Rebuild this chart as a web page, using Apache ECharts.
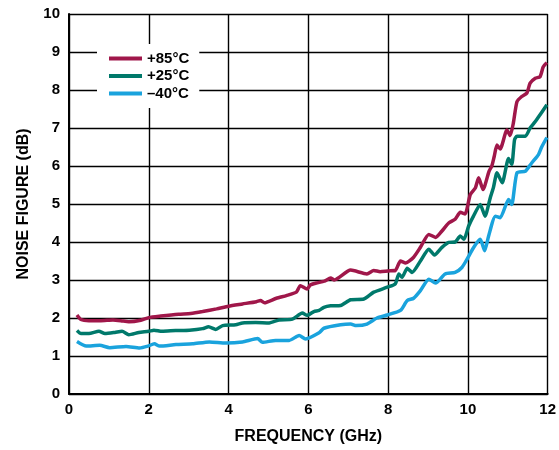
<!DOCTYPE html>
<html>
<head>
<meta charset="utf-8">
<script src="https://cdn.jsdelivr.net/npm/echarts@6/dist/echarts.min.js"></script>
<style>html,body{margin:0;padding:0;background:#fff;}#c{width:559px;height:450px;}</style>
</head>
<body>
<div id="c"></div>
<script>
const seriesNames = ['+85°C', '+25°C', '\u201340°C'];
const seriesColors = ['#A0174A', '#00796B', '#1AA3DD'];

const hotX = [0.2,0.3,0.5,0.8,1.1,1.3,1.5,1.8,2.0,2.3,2.75,3.05,3.35,3.7,4.0,4.35,4.7,4.8,4.9,5.2,5.45,5.7,5.8,5.97,6.05,6.2,6.4,6.56,6.65,7.06,7.47,7.64,7.8,8.0,8.18,8.31,8.44,8.64,8.81,9.02,9.19,9.35,9.52,9.68,9.81,9.93,10.06,10.19,10.27,10.38,10.53,10.6,10.66,10.73,10.81,10.98,11.06,11.14,11.23,11.35,11.48,11.56,11.69,11.81,11.89,11.98];
const hotY = [2.08,1.96,1.93,1.93,1.95,1.93,1.9,1.94,2.01,2.05,2.1,2.12,2.17,2.24,2.31,2.37,2.43,2.46,2.4,2.52,2.59,2.68,2.85,2.76,2.87,2.92,2.97,3.05,3.0,3.26,3.16,3.25,3.22,3.24,3.25,3.5,3.45,3.6,3.86,4.2,4.12,4.29,4.5,4.6,4.78,4.74,5.25,5.43,5.69,5.38,5.86,6.0,6.25,6.55,6.45,6.95,6.8,7.13,7.69,7.83,7.92,8.18,8.31,8.35,8.61,8.72];

const roomX = [0.2,0.3,0.5,0.75,0.9,1.15,1.33,1.5,1.75,2.0,2.13,2.33,2.67,3.02,3.35,3.5,3.68,3.85,4.18,4.35,4.68,5.02,5.27,5.6,5.85,5.97,6.14,6.27,6.39,6.56,6.81,7.06,7.39,7.64,7.98,8.18,8.27,8.35,8.48,8.6,8.81,9.02,9.16,9.35,9.52,9.68,9.81,9.9,10.02,10.14,10.31,10.43,10.56,10.64,10.73,10.86,11.02,11.1,11.17,11.23,11.44,11.56,11.69,11.81,11.98];
const roomY = [1.67,1.59,1.59,1.65,1.59,1.62,1.65,1.56,1.62,1.65,1.68,1.65,1.67,1.68,1.72,1.77,1.7,1.8,1.82,1.87,1.88,1.87,1.95,1.97,2.13,2.07,2.17,2.2,2.28,2.32,2.33,2.48,2.5,2.68,2.81,2.9,3.16,3.07,3.31,3.2,3.5,3.81,3.66,3.86,3.99,4.0,4.16,4.07,4.42,4.68,4.99,4.68,5.16,5.43,5.82,5.56,6.2,6.04,6.69,6.78,6.78,7.0,7.17,7.35,7.61];

const coldX = [0.2,0.43,0.77,1.02,1.43,1.77,1.98,2.14,2.27,2.68,3.1,3.52,3.93,4.35,4.73,4.85,5.18,5.52,5.77,5.93,6.27,6.39,6.81,7.06,7.2,7.47,7.72,7.98,8.31,8.48,8.64,8.81,9.02,9.19,9.43,9.68,9.85,9.98,10.14,10.31,10.42,10.52,10.69,10.81,11.02,11.1,11.23,11.44,11.6,11.77,11.85,11.98];
const coldY = [1.38,1.26,1.28,1.22,1.25,1.21,1.26,1.32,1.26,1.3,1.32,1.37,1.34,1.37,1.46,1.36,1.41,1.41,1.54,1.45,1.61,1.73,1.82,1.84,1.8,1.84,2.0,2.08,2.2,2.46,2.52,2.72,3.02,2.92,3.16,3.2,3.33,3.55,3.85,4.07,3.77,4.16,4.68,4.64,5.12,4.99,5.82,5.86,6.08,6.3,6.5,6.75];

const xTicks = [0, 2, 4, 6, 8, 10, 12];
const yTicks = [0, 1, 2, 3, 4, 5, 6, 7, 8, 9, 10];
const xTitle = 'FREQUENCY (GHz)';
const yTitle = 'NOISE FIGURE (dB)';

const pairs = (xs, ys) => xs.map((x, i) => [x, ys[i]]);
const seriesData = [pairs(hotX, hotY), pairs(roomX, roomY), pairs(coldX, coldY)];

const font = 'Liberation Sans, Arial, sans-serif';
const chart = echarts.init(document.getElementById('c'), null, {renderer: 'canvas'});
chart.setOption({
  animation: false,
  backgroundColor: '#fff',
  grid: {left: 69, right: 10, top: 14, bottom: 54, containLabel: false},
  xAxis: {
    type: 'value', min: xTicks[0], max: xTicks[xTicks.length - 1], interval: 2,
    name: xTitle, nameLocation: 'middle', nameGap: 35,
    nameTextStyle: {fontFamily: font, fontWeight: 'bold', fontSize: 16, color: '#000'},
    axisLine: {show: true, lineStyle: {color: '#000', width: 2}},
    axisTick: {show: false},
    axisLabel: {fontFamily: font, fontWeight: 'bold', fontSize: 15, color: '#000', margin: 8},
    splitLine: {show: true, lineStyle: {color: '#000', width: 1.4}}
  },
  yAxis: {
    type: 'value', min: yTicks[0], max: yTicks[yTicks.length - 1], interval: 1,
    name: yTitle, nameLocation: 'middle', nameGap: 37, nameRotate: 90,
    nameTextStyle: {fontFamily: font, fontWeight: 'bold', fontSize: 16, color: '#000'},
    axisLine: {show: true, lineStyle: {color: '#000', width: 2}},
    axisTick: {show: false},
    axisLabel: {fontFamily: font, fontWeight: 'bold', fontSize: 15, color: '#000', margin: 9},
    splitLine: {show: true, lineStyle: {color: '#000', width: 1.4}}
  },
  legend: {
    show: true, orient: 'vertical', left: 97, top: 44,
    padding: [7, 10, 7, 12], backgroundColor: '#fff',
    itemWidth: 33, itemHeight: 4, itemGap: 2.5, icon: 'rect',
    textStyle: {fontFamily: font, fontWeight: 'bold', fontSize: 15, color: '#000', lineHeight: 14},
    data: seriesNames
  },
  series: seriesNames.map((n, i) => ({
    name: n, type: 'line', data: seriesData[i], showSymbol: false, symbol: 'none',
    smooth: 0.2, z: 3 - i + 2,
    lineStyle: {color: seriesColors[i], width: 3.5},
    itemStyle: {color: seriesColors[i]}
  }))
});
</script>
</body>
</html>
